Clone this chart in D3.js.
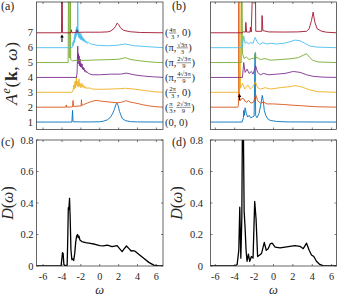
<!DOCTYPE html>
<html><head><meta charset="utf-8">
<script src="https://cdn.jsdelivr.net/npm/d3@7"></script>
<style>body{margin:0;background:#fff}svg{display:block}text{font-family:"Liberation Serif","DejaVu Serif",serif;fill:#262626}</style>
</head><body>
<svg id="c" width="338" height="297"></svg>
<script>
// ---- data ----
const kIndex = [1,2,3,4,5,6,7];
const kColors = ["#0072BD","#D95319","#EDB120","#7E2F8E","#77AC30","#4DBEEE","#A2142F"];
const xTickVals = [-6,-4,-2,0,2,4,6];
const dTickVals = [0,0.2,0.4,0.6,0.8];
const dTickLabels = ["0","0.2","0.4","0.6","0.8"];
const kTickLabels = ["1","2","3","4","5","6","7"];
const kLabels = [
  ["(", {n:"0", d:null}, ", 0)"],
  ["(", {n:"π", d:"3"}, ", ", {n:"2√3π", d:"9"}, ")"],
  ["(", {n:"2π", d:"3"}, ", 0)"],
  ["(π, ", {n:"4√3π", d:"9"}, ")"],
  ["(π, ", {n:"2√3π", d:"9"}, ")"],
  ["(π, ", {n:"√3π", d:"3"}, ")"],
  ["(", {n:"4π", d:"3"}, ", 0)"]
];
// panel (a) spectral functions [omega, A]
const a1 = [[-6.7,0],[-2.95,0],[-2.88,0.78],[-2.83,0.02],[-2,0.01],[-1,0.01],[0,0.02],[0.4,0.06],[0.8,0.15],[1.1,0.3],[1.35,0.55],[1.55,0.85],[1.72,1.2],[1.84,1.27],[1.95,1.1],[2.1,0.7],[2.37,0.25],[2.7,0.1],[3.25,0.03],[4,0.01],[6.7,0]];
const a2 = [[-6.7,0],[-3.6,0],[-3.55,0.15],[-3.5,0],[-2.88,0.02],[-2.83,0.45],[-2.78,0.05],[-2.5,0.06],[-2.2,0.08],[-1.97,0.08],[-1.94,0.5],[-1.9,0.12],[-1.7,0.18],[-1.3,0.28],[-0.9,0.38],[-0.5,0.44],[-0.28,0.45],[0.2,0.4],[0.8,0.36],[1.4,0.32],[1.84,0.3],[2.3,0.33],[2.6,0.4],[2.83,0.43],[3.1,0.36],[3.6,0.3],[4.2,0.22],[4.66,0.15],[5.2,0.09],[5.7,0.05],[6.2,0.02],[6.7,0]];
const a3 = [[-6.7,0],[-2.95,0],[-2.85,0.1],[-2.79,0.3],[-2.76,0.49],[-2.72,0.2],[-2.66,0.55],[-2.6,0.76],[-2.56,0.3],[-2.51,0.7],[-2.47,1.05],[-2.43,0.45],[-2.38,0.75],[-2.33,0.6],[-2.29,0.35],[-2.24,0.7],[-2.19,0.9],[-2.15,0.4],[-2.1,0.62],[-2.05,0.5],[-2.0,0.3],[-1.94,0.55],[-1.87,0.6],[-1.82,0.35],[-1.76,0.48],[-1.7,0.38],[-1.64,0.28],[-1.58,0.4],[-1.52,0.31],[-1.45,0.25],[-1.38,0.33],[-1.27,0.27],[-1.1,0.3],[-0.8,0.22],[0,0.2],[1.13,0.22],[2.0,0.24],[2.72,0.27],[3.6,0.22],[4.66,0.13],[5.7,0.04],[6.7,0]];
const a4 = [[-6.7,0],[-2.47,0],[-2.4,0.3],[-2.33,2.1],[-2.29,0.9],[-2.25,1.6],[-2.22,1.1],[-2.18,1.45],[-2.15,0.78],[-2.11,1.1],[-2.08,1.23],[-2.03,0.7],[-1.98,0.95],[-1.92,0.67],[-1.87,0.9],[-1.82,0.55],[-1.77,0.7],[-1.72,0.5],[-1.66,0.62],[-1.6,0.4],[-1.52,0.48],[-1.45,0.34],[-1.38,0.4],[-1.28,0.3],[-1.17,0.27],[-0.8,0.18],[0,0.18],[1.13,0.22],[2.2,0.22],[2.83,0.29],[3.6,0.18],[4.66,0.09],[5.7,0.04],[6.7,0]];
const a5 = [[-6.7,0],[-3.35,0],[-3.29,8],[-3.24,0.4],[-3.17,0.3],[-3.13,8],[-3.08,0.2],[-2.9,0.12],[-2.3,0.15],[-1.5,0.15],[0,0.18],[1.2,0.2],[2.0,0.22],[2.72,0.33],[3.3,0.2],[4.2,0.12],[5.2,0.05],[6.0,0.01],[6.7,0]];
const a6 = [[-6.7,0],[-2.93,0],[-2.86,0.25],[-2.83,0.4],[-2.79,0.15],[-2.76,0.5],[-2.72,0.3],[-2.69,0.74],[-2.66,0.4],[-2.63,0.9],[-2.6,0.55],[-2.58,1.07],[-2.55,0.7],[-2.52,1.2],[-2.49,0.8],[-2.47,1.4],[-2.43,0.9],[-2.4,1.3],[-2.36,0.9],[-2.33,8],[-2.3,1.0],[-2.26,1.19],[-2.23,0.7],[-2.19,0.95],[-2.16,0.65],[-2.12,1.0],[-2.09,0.6],[-2.05,0.85],[-2.02,0.55],[-1.99,0.95],[-1.95,0.55],[-1.9,0.8],[-1.86,0.5],[-1.82,0.7],[-1.77,0.45],[-1.72,0.63],[-1.67,0.42],[-1.62,0.55],[-1.56,0.38],[-1.5,0.47],[-1.44,0.32],[-1.38,0.42],[-1.3,0.29],[-1.2,0.35],[-1.06,0.28],[-0.9,0.25],[-0.6,0.2],[-0.28,0.16],[0.78,0.13],[1.84,0.16],[2.72,0.25],[3.6,0.13],[5.0,0.07],[6.7,0]];
const a7 = [[-6.7,0],[-4.05,0],[-4.0,8],[-3.95,0],[-3.05,0],[-3.0,0.2],[-2.95,0],[-2.45,0.02],[-2.4,0.2],[-2.35,0.03],[-1.5,0.04],[0,0.04],[0.8,0.06],[1.13,0.11],[1.48,0.27],[1.66,0.42],[1.84,0.65],[2.0,0.56],[2.19,0.34],[2.55,0.16],[3.25,0.07],[4.3,0.02],[6.7,0]];
// panel (b) spectral functions [omega, A]
const b1 = [[-6.5,0],[-3.24,0],[-3.1,0.3],[-3.07,0.78],[-3.0,0.45],[-2.93,0.96],[-2.8,0.56],[-2.66,0.34],[-2.52,0.45],[-2.35,0.29],[-2.18,0.34],[-2.0,0.4],[-1.9,4.6],[-1.84,0.45],[-1.7,0.29],[-1.5,0.56],[-1.3,1.2],[-1.16,1.79],[-1.06,1.45],[-0.95,0.78],[-0.8,0.45],[-0.6,0.22],[-0.34,0.11],[0.34,0.04],[1.5,0.01],[6.5,0]];
const b2 = [[-6.5,0],[-3.7,0],[-3.62,0.1],[-3.58,8],[-3.52,0.67],[-3.4,0.45],[-3.25,0.6],[-3.07,0.56],[-2.95,0.4],[-2.8,0.34],[-2.56,0.45],[-2.32,0.27],[-2.05,0.34],[-1.84,0.85],[-1.64,0.45],[-1.36,0.27],[-1.02,0.34],[-0.68,0.22],[0,0.22],[1.02,0.18],[2.04,0.13],[3.07,0.09],[4.09,0.04],[5.1,0.02],[6.5,0]];
const b3 = [[-6.5,0],[-3.55,0],[-3.48,8],[-3.4,0.27],[-3.2,0.6],[-2.97,0.22],[-2.66,0.49],[-2.39,0.22],[-2.11,0.38],[-1.87,0.72],[-1.64,0.31],[-1.36,0.22],[-0.85,0.31],[-0.34,0.22],[0.68,0.31],[1.7,0.38],[2.22,0.45],[2.9,0.36],[3.75,0.16],[4.6,0.04],[6.5,0]];
const b4 = [[-6.5,0],[-3.2,0],[-3.07,1.0],[-2.93,0.34],[-2.73,0.56],[-2.52,0.27],[-2.28,0.4],[-2.11,0.22],[-1.84,0.78],[-1.64,0.34],[-1.36,0.18],[-1.02,0.27],[-0.51,0.18],[0.34,0.22],[1.19,0.27],[2.04,0.4],[2.73,0.34],[3.41,0.18],[4.09,0.07],[5.1,0.02],[6.5,0]];
const b5 = [[-6.5,0],[-3.33,0],[-3.27,8],[-3.2,0.6],[-3.03,0.27],[-2.8,0.38],[-2.52,0.2],[-2.25,0.27],[-1.94,0.3],[-1.87,0.7],[-1.8,0.3],[-1.64,0.33],[-1.36,0.2],[-0.85,0.27],[-0.34,0.16],[0.68,0.2],[1.7,0.25],[2.56,0.33],[3.07,0.49],[3.41,0.6],[3.68,0.38],[4.02,0.16],[4.6,0.04],[6.5,0]];
const b6 = [[-6.5,0],[-3.24,0],[-3.07,0.78],[-2.93,0.29],[-2.8,0.4],[-2.59,0.25],[-2.39,0.34],[-2.11,0.29],[-1.9,0.69],[-1.7,0.4],[-1.43,0.22],[-1.09,0.34],[-0.68,0.25],[-0.34,0.29],[0.34,0.25],[1.02,0.29],[1.7,0.4],[2.22,0.51],[2.73,0.47],[3.24,0.29],[3.75,0.11],[4.43,0.04],[6.5,0]];
const b7 = [[-6.5,0],[-3.3,0],[-3.1,0.06],[-2.9,0.05],[-2.85,0.7],[-2.78,0.05],[-2.42,0.05],[-2.38,0.38],[-2.3,0.05],[-1.92,8],[-1.83,0.1],[-1.5,0.1],[-1.22,0.1],[-1.18,1.16],[-1.1,0.15],[-0.5,0.06],[1.0,0.05],[2.5,0.06],[3.4,0.1],[3.68,0.27],[3.92,0.83],[4.09,1.39],[4.26,0.72],[4.5,0.27],[4.94,0.11],[5.45,0.04],[6.5,0]];
// density of states [omega, D]
const dosC = [[-6.7,0],[-4.1,0],[-4.02,0.04],[-3.95,0.085],[-3.88,0.08],[-3.8,0.01],[-3.7,0.002],[-3.45,0.005],[-3.38,0.2],[-3.33,0.37],[-3.27,0.36],[-3.2,0.43],[-3.13,0.3],[-3.05,0.1],[-2.95,0.04],[-2.85,0.045],[-2.76,0.035],[-2.65,0.08],[-2.55,0.15],[-2.45,0.19],[-2.35,0.2],[-2.28,0.18],[-2.2,0.19],[-2.1,0.165],[-1.9,0.155],[-1.5,0.148],[-1.0,0.143],[-0.5,0.138],[0,0.13],[0.4,0.128],[0.8,0.133],[1.3,0.123],[1.84,0.129],[2.1,0.11],[2.37,0.091],[2.6,0.11],[2.83,0.127],[3.1,0.11],[3.32,0.095],[3.5,0.098],[3.71,0.095],[4.13,0.074],[4.66,0.049],[5.2,0.023],[5.72,0.006],[6.25,0],[6.7,0]];
const dosD = [[-6.5,0],[-4.0,0],[-3.92,0.003],[-3.75,0.01],[-3.58,0.1],[-3.48,0.373],[-3.37,0.05],[-3.27,0.3],[-3.2,0.95],[-3.12,0.95],[-3.03,0.35],[-2.93,0.24],[-2.83,0.1],[-2.73,0.03],[-2.59,0.075],[-2.45,0.03],[-2.28,0.06],[-2.11,0.05],[-1.94,0.41],[-1.8,0.3],[-1.64,0.06],[-1.43,0.07],[-1.23,0.08],[-0.95,0.15],[-0.75,0.1],[-0.55,0.11],[-0.34,0.14],[-0.14,0.145],[0.17,0.12],[0.68,0.115],[1.19,0.12],[1.7,0.125],[2.2,0.13],[2.73,0.125],[3.07,0.11],[3.41,0.145],[3.68,0.1],[3.92,0.07],[4.16,0.06],[4.43,0.03],[4.77,0.01],[5.1,0.002],[6.5,0]];
const specA = [a1,a2,a3,a4,a5,a6,a7];
const specB = [b1,b2,b3,b4,b5,b6,b7];

// ---- drawing ----
const svg = d3.select("#c");
const axisCol = "#262626";
const P = {
  a:{x0:36.5,x1:163,y0:2,y1:129.5,dom:[-6.7,6.7]},
  b:{x0:210.5,x1:336.5,y0:2,y1:129.5,dom:[-6.5,6.5]},
  c:{x0:36.5,x1:163,y0:140,y1:266,dom:[-6.7,6.7]},
  d:{x0:210.5,x1:336.5,y0:140,y1:266,dom:[-6.5,6.5]}
};
const defs = svg.append("defs");
Object.entries(P).forEach(([k,p])=>{
  p.x = d3.scaleLinear().domain(p.dom).range([p.x0,p.x1]);
  defs.append("clipPath").attr("id","clip-"+k).append("rect")
    .attr("x",p.x0).attr("y",p.y0).attr("width",p.x1-p.x0).attr("height",p.y1-p.y0);
});
const kScale = d3.scaleLinear().domain([0.5,9.07]).range([129.5,2]);
const dScale = d3.scaleLinear().domain([0,0.8]).range([266,140]);

function frame(p, yTicks, yS){
  const g = svg.append("g");
  xTickVals.forEach(t=>{
    const xx = p.x(t);
    g.append("line").attr("x1",xx).attr("x2",xx).attr("y1",p.y1).attr("y2",p.y1-2).attr("stroke",axisCol).attr("stroke-width",0.6);
    g.append("line").attr("x1",xx).attr("x2",xx).attr("y1",p.y0).attr("y2",p.y0+2).attr("stroke",axisCol).attr("stroke-width",0.6);
  });
  if(yTicks){
    yTicks.forEach(t=>{
      const yy = yS(t);
      g.append("line").attr("x1",p.x0).attr("x2",p.x0+2).attr("y1",yy).attr("y2",yy).attr("stroke",axisCol).attr("stroke-width",0.6);
      g.append("line").attr("x1",p.x1).attr("x2",p.x1-2).attr("y1",yy).attr("y2",yy).attr("stroke",axisCol).attr("stroke-width",0.6);
    });
  }
  g.append("rect").attr("x",p.x0).attr("y",p.y0).attr("width",p.x1-p.x0).attr("height",p.y1-p.y0)
    .attr("fill","none").attr("stroke",axisCol).attr("stroke-width",0.7);
}

function spectra(key, series){
  const p = P[key];
  const g = svg.append("g").attr("clip-path","url(#clip-"+key+")");
  series.forEach((s,i)=>{
    const k = kIndex[i];
    const line = d3.line().x(d=>p.x(d[0])).y(d=>kScale(k+d[1]));
    g.append("path").datum(s).attr("d",line).attr("fill","none")
      .attr("stroke",kColors[i]).attr("stroke-width",0.9).attr("stroke-linejoin","round");
  });
}
function dos(key, data){
  const p = P[key];
  const g = svg.append("g").attr("clip-path","url(#clip-"+key+")");
  const line = d3.line().x(d=>p.x(d[0])).y(d=>dScale(d[1]));
  g.append("path").datum(data).attr("d",line).attr("fill","none")
    .attr("stroke","#000").attr("stroke-width",1.3).attr("stroke-linejoin","round");
}

spectra("a", specA);
spectra("b", specB);
dos("c", dosC);
dos("d", dosD);
frame(P.a, null);
frame(P.b, null);
frame(P.c, dTickVals, dScale);
frame(P.d, dTickVals, dScale);

// tick labels
kIndex.forEach((k,i)=>{
  svg.append("text").attr("x",33).attr("y",kScale(k)).attr("dy","0.35em")
    .attr("text-anchor","end").style("font-size","10.5px").text(kTickLabels[i]);
});
[["c",33.5],["d",203]].forEach(([key,xr])=>{
  const p = P[key];
  dTickVals.forEach((t,i)=>{
    svg.append("text").attr("x",xr).attr("y",dScale(t)).attr("dy","0.35em")
      .attr("text-anchor","end").style("font-size","10.5px").text(dTickLabels[i]);
  });
  xTickVals.forEach(t=>{
    svg.append("text").attr("x",p.x(t)).attr("y",276.5).attr("dy","0.35em")
      .attr("text-anchor","middle").style("font-size","10.2px").text(String(t));
  });
  svg.append("text").attr("x",p.x(0)).attr("y",293.8).attr("text-anchor","middle")
    .style("font-size","12.5px").style("font-style","italic").text("ω");
});

// panel letters
[["(a)",1,10],["(b)",172,10],["(c)",1,146],["(d)",172,146]].forEach(([t,x,y])=>{
  svg.append("text").attr("x",x).attr("y",y).style("font-size","12px").text(t);
});

// y labels
const ya = svg.append("text").attr("transform","translate(17,73) rotate(-90)").attr("text-anchor","middle")
  .style("font-size","17.5px").style("letter-spacing","0.6px");
ya.append("tspan").style("font-style","italic").text("A");
ya.append("tspan").style("font-style","italic").style("font-size","12px").attr("dy","-7").text("e");
ya.append("tspan").attr("dy","7").text("(");
ya.append("tspan").style("font-weight","bold").text("k");
ya.append("tspan").text(", ");
ya.append("tspan").style("font-style","italic").text("ω");
ya.append("tspan").text(")");
[[13,203],[182,203]].forEach(([x,y])=>{
  const t = svg.append("text").attr("transform",`translate(${x},${y}) rotate(-90)`).attr("text-anchor","middle").style("font-size","16px");
  t.append("tspan").style("font-style","italic").text("D");
  t.append("tspan").text("(");
  t.append("tspan").style("font-style","italic").text("ω");
  t.append("tspan").text(")");
});

// k-point labels
function kLabel(x, y, parts){
  const g = svg.append("g");
  let cx = x;
  parts.forEach(pt=>{
    if(typeof pt === "string"){
      const t = g.append("text").attr("x",cx).attr("y",y).attr("dy","0.35em").style("font-size","10.5px").text(pt);
      cx += t.node().getComputedTextLength();
    } else if(pt.d === null){
      const t = g.append("text").attr("x",cx).attr("y",y).attr("dy","0.35em").style("font-size","10.5px").text(pt.n);
      cx += t.node().getComputedTextLength();
    } else {
      const n = g.append("text").attr("y",y-1.1).attr("text-anchor","middle").style("font-size","6.6px").text(pt.n);
      const d = g.append("text").attr("y",y+5.9).attr("text-anchor","middle").style("font-size","6.6px").text(pt.d);
      const w = Math.max(n.node().getComputedTextLength(), d.node().getComputedTextLength()) + 1.5;
      n.attr("x",cx+w/2); d.attr("x",cx+w/2);
      g.append("line").attr("x1",cx+0.3).attr("x2",cx+w-0.3).attr("y1",y+0.2).attr("y2",y+0.2).attr("stroke",axisCol).attr("stroke-width",0.5);
      cx += w;
    }
  });
}
kIndex.forEach((k,i)=>kLabel(165, kScale(k), kLabels[i]));

// arrows
function arrow(x, yTop, yBot){
  svg.append("line").attr("x1",x).attr("x2",x).attr("y1",yTop+2).attr("y2",yBot).attr("stroke","#000").attr("stroke-width",1);
  svg.append("path").attr("d",`M${x-1.8},${yTop+3} L${x},${yTop} L${x+1.8},${yTop+3} Z`).attr("fill","#000");
}
arrow(P.a.x(-4.0), 34.5, 42);
arrow(P.b.x(-3.5), 94, 100.5);
</script>
</body></html>
